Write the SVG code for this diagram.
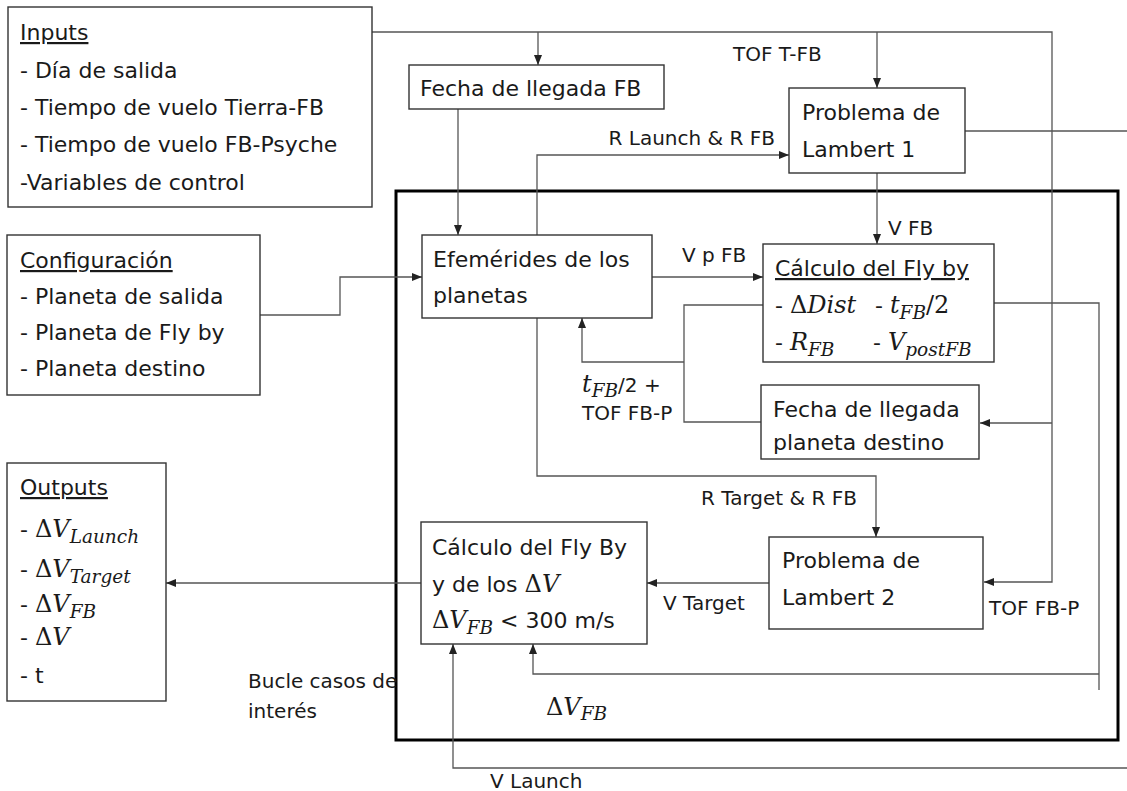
<svg xmlns="http://www.w3.org/2000/svg" width="1127" height="791" viewBox="0 0 1127 791">
<style>
.box{fill:#fff;stroke:#333;stroke-width:1.4}
.t{font-family:"DejaVu Sans",sans-serif;font-size:22px;fill:#1a1a1a}
.l{font-family:"DejaVu Sans",sans-serif;font-size:20px;fill:#1a1a1a}
.m{font-family:"DejaVu Serif",serif;font-style:italic;font-size:24px}
.s{font-family:"DejaVu Serif",serif;font-style:italic;font-size:18.5px}
.up{font-family:"DejaVu Serif",serif;font-style:normal;font-size:24px}
.c{fill:none;stroke:#555;stroke-width:1.3}
.ca{fill:none;stroke:#555;stroke-width:1.3;marker-end:url(#a)}
.u{text-decoration:underline}
</style>
<defs>
<marker id="a" markerWidth="10" markerHeight="8" refX="10" refY="4" orient="auto" markerUnits="userSpaceOnUse">
<path d="M0,0 L10,4 L0,8 z" fill="#222"/>
</marker>
</defs>
<rect width="1127" height="791" fill="#fff"/>
<rect id="loop" x="396" y="191" width="722" height="549" fill="none" stroke="#000" stroke-width="3"/>
<g id="connectors">
<path class="ca" d="M372,32 H1052 V582 H984"/>
<path class="ca" d="M538,32 V65"/>
<path class="ca" d="M877,32 V88"/>
<path class="ca" d="M1052,423 H980"/>
<path class="ca" d="M458,109 V235"/>
<path class="ca" d="M260,315 H340 V277 H422"/>
<path class="ca" d="M537,235 V155 H789"/>
<path class="c" d="M965,131 H1127"/>
<path class="ca" d="M877,173 V244"/>
<path class="ca" d="M652,277 H763"/>
<path class="c" d="M763,305 H684 V422 H761"/>
<path class="ca" d="M684,362 H582 V318"/>
<path class="ca" d="M537,318 V476 H876 V537"/>
<path class="ca" d="M769,583 H647"/>
<path class="ca" d="M421,583 H166"/>
<path class="c" d="M994,303 H1099 V690"/>
<path class="ca" d="M1099,674 H533 V644"/>
<path class="ca" d="M1127,768 H453 V644"/>
</g>
<g id="labels">
<text class="l" x="733" y="61">TOF T-FB</text>
<text class="l" x="775" y="145" text-anchor="end">R Launch &amp; R FB</text>
<text class="l" x="888" y="235">V FB</text>
<text class="l" x="682" y="262">V p FB</text>
<text class="l" x="582" y="392"><tspan class="m" font-size="23">t</tspan><tspan class="s" font-size="17" dy="5">FB</tspan><tspan dy="-5">/2 +</tspan></text>
<text class="l" x="582" y="420">TOF FB-P</text>
<text class="l" x="857" y="505" text-anchor="end">R Target &amp; R FB</text>
<text class="l" x="989" y="615">TOF FB-P</text>
<text class="l" x="663" y="610">V Target</text>
<text class="l" x="546" y="715"><tspan class="up" font-size="23">Δ</tspan><tspan class="m" font-size="23">V</tspan><tspan class="s" font-size="17" dy="5">FB</tspan></text>
<text class="l" x="490" y="788">V Launch</text>
<text class="l" x="248" y="688">Bucle casos de</text>
<text class="l" x="248" y="718">interés</text>
</g>
<g id="inputs">
<rect class="box" x="8" y="7" width="364" height="200"/>
<text class="t" x="20" y="40"><tspan class="u">Inputs</tspan></text>
<text class="t" x="20" y="78">- Día de salida</text>
<text class="t" x="20" y="115">- Tiempo de vuelo Tierra-FB</text>
<text class="t" x="20" y="152">- Tiempo de vuelo FB-Psyche</text>
<text class="t" x="20" y="190">-Variables de control</text>
</g>
<g id="fecha-fb">
<rect class="box" x="409" y="65" width="255" height="44"/>
<text class="t" x="420" y="96">Fecha de llegada FB</text>
</g>
<g id="lambert1">
<rect class="box" x="789" y="88" width="176" height="85"/>
<text class="t" x="802" y="120">Problema de</text>
<text class="t" x="802" y="157">Lambert 1</text>
</g>
<g id="config">
<rect class="box" x="7" y="235" width="253" height="160"/>
<text class="t" x="20" y="268"><tspan class="u">Configuración</tspan></text>
<text class="t" x="20" y="304">- Planeta de salida</text>
<text class="t" x="20" y="340">- Planeta de Fly by</text>
<text class="t" x="20" y="376">- Planeta destino</text>
</g>
<g id="efemerides">
<rect class="box" x="422" y="235" width="230" height="83"/>
<text class="t" x="433" y="267">Efemérides de los</text>
<text class="t" x="433" y="303">planetas</text>
</g>
<g id="calculo-fb">
<rect class="box" x="763" y="244" width="231" height="118"/>
<text class="t" x="775" y="276"><tspan class="u">Cálculo del Fly by</tspan></text>
<text class="t" x="775" y="313">- <tspan class="up">Δ</tspan><tspan class="m">Dist</tspan></text>
<text class="t" x="875" y="313">- <tspan class="m">t</tspan><tspan class="s" dy="6">FB</tspan><tspan class="up" dy="-6">/2</tspan></text>
<text class="t" x="775" y="350">- <tspan class="m">R</tspan><tspan class="s" dy="6">FB</tspan></text>
<text class="t" x="873" y="350">- <tspan class="m">V</tspan><tspan class="s" dy="6">postFB</tspan></text>
</g>
<g id="fecha-destino">
<rect class="box" x="761" y="385" width="218" height="74"/>
<text class="t" x="773" y="417">Fecha de llegada</text>
<text class="t" x="773" y="450">planeta destino</text>
</g>
<g id="lambert2">
<rect class="box" x="769" y="537" width="214" height="92"/>
<text class="t" x="782" y="568">Problema de</text>
<text class="t" x="782" y="605">Lambert 2</text>
</g>
<g id="calculo-dv">
<rect class="box" x="421" y="522" width="226" height="122"/>
<text class="t" x="432" y="555">Cálculo del Fly By</text>
<text class="t" x="432" y="592">y de los <tspan class="up">Δ</tspan><tspan class="m">V</tspan></text>
<text class="t" x="432" y="628"><tspan class="up">Δ</tspan><tspan class="m">V</tspan><tspan class="s" dy="6">FB</tspan><tspan dy="-6"> &lt; 300 m/s</tspan></text>
</g>
<g id="outputs">
<rect class="box" x="7" y="463" width="159" height="238"/>
<text class="t" x="20" y="495"><tspan class="u">Outputs</tspan></text>
<text class="t" x="20" y="537">- <tspan class="up">Δ</tspan><tspan class="m">V</tspan><tspan class="s" dy="6">Launch</tspan></text>
<text class="t" x="20" y="577">- <tspan class="up">Δ</tspan><tspan class="m">V</tspan><tspan class="s" dy="6">Target</tspan></text>
<text class="t" x="20" y="612">- <tspan class="up">Δ</tspan><tspan class="m">V</tspan><tspan class="s" dy="6">FB</tspan></text>
<text class="t" x="20" y="645">- <tspan class="up">Δ</tspan><tspan class="m">V</tspan></text>
<text class="t" x="20" y="683">- t</text>
</g>
</svg>
